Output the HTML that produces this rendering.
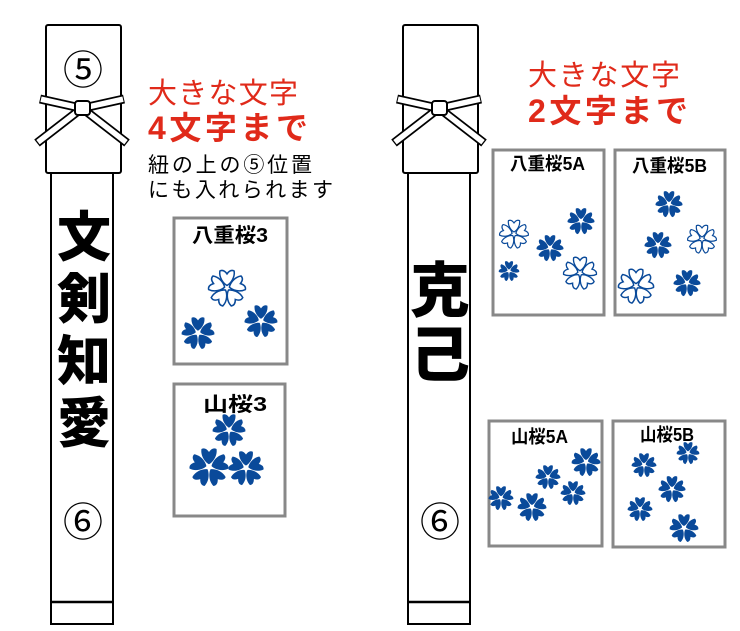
<!DOCTYPE html>
<html><head><meta charset="utf-8"><style>
html,body{margin:0;padding:0;background:#fff;}
svg{display:block;}
text{font-family:"Liberation Sans","Noto Sans CJK JP",sans-serif;}
.cal{font-family:"Noto Serif CJK SC","Noto Serif CJK JP",serif;font-weight:900;}
.lb{font-weight:bold;}
</style></head><body>
<svg width="740" height="631" viewBox="0 0 740 631" xmlns="http://www.w3.org/2000/svg">
<defs>
<path id="pt" d="M0,-1.5 C-2,-2.5 -4.8,-6 -4.2,-10 Q-2,-11.2 0,-8.3 Q2,-11.2 4.2,-10 C4.8,-6 2,-2.5 0,-1.5Z"/>
<g id="ff"><use href="#pt"/><use href="#pt" transform="rotate(72)"/><use href="#pt" transform="rotate(144)"/><use href="#pt" transform="rotate(216)"/><use href="#pt" transform="rotate(288)"/></g>
<g id="tube">
 <rect x="51" y="172" width="62" height="452" fill="#fff" stroke="#000" stroke-width="2"/>
 <line x1="51" y1="602" x2="113" y2="602" stroke="#000" stroke-width="2.5"/>
 <rect x="46" y="25" width="75" height="148" rx="2" fill="#fff" stroke="#000" stroke-width="2"/>
 <g stroke="#000" stroke-width="9">
  <line x1="40" y1="99" x2="76" y2="107"/><line x1="124" y1="99" x2="88" y2="107"/>
  <line x1="77" y1="112" x2="37" y2="143"/><line x1="87" y1="112" x2="127" y2="143"/>
 </g>
 <g stroke="#fff" stroke-width="5.5">
  <line x1="41" y1="99.2" x2="76" y2="107"/><line x1="123" y1="99.2" x2="88" y2="107"/>
  <line x1="77" y1="112" x2="38" y2="142.2"/><line x1="87" y1="112" x2="126" y2="142.2"/>
 </g>
 <rect x="75" y="101" width="15" height="14" rx="3" fill="#fff" stroke="#000" stroke-width="2"/>
</g>
</defs>
<use href="#tube"/><use href="#tube" transform="translate(357,0)"/>
<text x="83" y="84" font-size="40" text-anchor="middle">⑤</text>
<text x="83" y="536" font-size="40" text-anchor="middle">⑥</text>
<text x="440" y="536" font-size="40" text-anchor="middle">⑥</text>
<g class="cal" font-size="54" text-anchor="middle">
<text x="84" y="256">文</text><text x="84" y="318">剣</text><text x="84" y="380">知</text><text x="84" y="442">愛</text>
</g>
<g class="cal" font-size="60" text-anchor="middle"><text x="440" y="312">克</text><text x="440" y="376">己</text></g>
<g fill="#e02a1a">
<text x="148" y="103" font-size="29" textLength="150">大きな文字</text>
<text x="148" y="139" font-size="32" font-weight="bold" textLength="160">4文字まで</text>
<text x="528" y="85" font-size="29" textLength="152">大きな文字</text>
<text x="528" y="122" font-size="32" font-weight="bold" textLength="160">2文字まで</text>
</g>
<text x="148" y="172" font-size="21" textLength="164">紐の上の⑤位置</text>
<text x="148" y="197" font-size="21" textLength="185">にも入れられます</text>
<g fill="#fff" stroke="#888" stroke-width="3">
<rect x="174" y="218" width="113" height="146"/>
<rect x="174" y="384" width="111" height="132"/>
<rect x="493" y="150" width="111" height="165"/>
<rect x="615" y="150" width="110" height="165"/>
<rect x="489" y="421" width="113" height="125"/>
<rect x="613" y="421" width="112" height="126"/>
</g>
<g class="lb" lengthAdjust="spacingAndGlyphs">
<text x="192" y="242" font-size="20" textLength="76" lengthAdjust="spacingAndGlyphs">八重桜3</text>
<text x="203" y="411" font-size="20" textLength="64" lengthAdjust="spacingAndGlyphs">山桜3</text>
<text x="510" y="170" font-size="18" textLength="75" lengthAdjust="spacingAndGlyphs">八重桜5A</text>
<text x="632" y="172" font-size="18" textLength="75" lengthAdjust="spacingAndGlyphs">八重桜5B</text>
<text x="511" y="443" font-size="18" textLength="57" lengthAdjust="spacingAndGlyphs">山桜5A</text>
<text x="640" y="441" font-size="18" textLength="54" lengthAdjust="spacingAndGlyphs">山桜5B</text>
</g>
<g fill="#0a4a9a">
<use href="#ff" transform="translate(261,321) scale(1.52)"/>
<use href="#ff" transform="translate(198,333) scale(1.52)"/>
<use href="#ff" transform="translate(229,430) scale(1.52)"/>
<use href="#ff" transform="translate(209,467) scale(1.8)"/>
<use href="#ff" transform="translate(246,468) scale(1.62)"/>
<use href="#ff" transform="translate(581,221) scale(1.24)"/>
<use href="#ff" transform="translate(550,248) scale(1.24)"/>
<use href="#ff" transform="translate(509,271) scale(0.95)"/>
<use href="#ff" transform="translate(669,204) scale(1.24)"/>
<use href="#ff" transform="translate(658,245) scale(1.24)"/>
<use href="#ff" transform="translate(687,283) scale(1.24)"/>
<use href="#ff" transform="translate(586,462) scale(1.33)"/>
<use href="#ff" transform="translate(548,477) scale(1.14)"/>
<use href="#ff" transform="translate(573,493) scale(1.14)"/>
<use href="#ff" transform="translate(501,498) scale(1.14)"/>
<use href="#ff" transform="translate(532,507) scale(1.33)"/>
<use href="#ff" transform="translate(688,453) scale(1.05)"/>
<use href="#ff" transform="translate(644,465) scale(1.14)"/>
<use href="#ff" transform="translate(672,489) scale(1.24)"/>
<use href="#ff" transform="translate(640,509) scale(1.14)"/>
<use href="#ff" transform="translate(684,528) scale(1.33)"/>
</g>
<g fill="#fff" stroke="#0a4a9a" stroke-width="0.9">
<use href="#ff" transform="translate(227,288) scale(1.7)"/>
<use href="#ff" transform="translate(514,234) scale(1.33)"/>
<use href="#ff" transform="translate(580,273) scale(1.52)"/>
<use href="#ff" transform="translate(702,239) scale(1.33)"/>
<use href="#ff" transform="translate(636,286) scale(1.62)"/>
</g>
</svg>
</body></html>
